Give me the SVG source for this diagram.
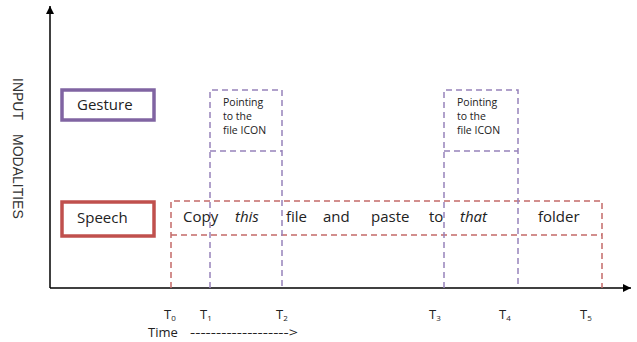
<svg xmlns="http://www.w3.org/2000/svg" width="637" height="342" viewBox="0 0 637 342">
<style>
.lbl{font-family:"Open Sans","Liberation Sans",sans-serif;font-size:15px;fill:#222}
.small{font-family:"Open Sans","Liberation Sans",sans-serif;font-size:10.5px;fill:#222}
.t{font-family:"Open Sans","Liberation Sans",sans-serif;font-size:13px;fill:#222}
.sub{font-size:8px}
.axis{stroke:#000;stroke-width:1.5;fill:none}
.gd{stroke:#9682ba;stroke-width:1.5;stroke-dasharray:6 4;fill:none}
.sd{stroke:#c46a68;stroke-width:1.5;stroke-dasharray:6 4;fill:none}
</style>
<defs>
<marker id="ah" viewBox="0 0 10 10" refX="10" refY="5" markerWidth="10" markerHeight="8" markerUnits="userSpaceOnUse" orient="auto">
<path d="M0,0 L10,5 L0,10 z" fill="#000"/>
</marker>
</defs>
<rect width="637" height="342" fill="#fff"/>

<g id="axes">
<line class="axis" x1="50" y1="288" x2="50" y2="6" marker-end="url(#ah)"/>
<line class="axis" x1="50" y1="288" x2="631" y2="288" marker-end="url(#ah)"/>
<text transform="translate(13,78) rotate(90)" font-family="Liberation Sans, Arial, sans-serif" font-size="14" fill="#333">INPUT<tspan x="56">MODALITIES</tspan></text>
</g>

<g id="gesture">
<rect x="62" y="90" width="92" height="30" fill="#fff" stroke="#8064A2" stroke-width="3.5"/>
<text class="lbl" x="77" y="110">Gesture</text>
</g>

<g id="speech">
<rect x="62" y="202" width="92" height="34" fill="#fff" stroke="#C0504D" stroke-width="3.5"/>
<text class="lbl" x="77" y="223">Speech</text>
</g>

<g id="connectors">
<path class="sd" d="M171,288 V201 H602 V288"/>
<line class="sd" x1="171" y1="235" x2="602" y2="235"/>
<path class="gd" d="M210,288 V90 H282 V288"/>
<line class="gd" x1="210" y1="151" x2="282" y2="151"/>
<path class="gd" d="M444,288 V90 H518 V288"/>
<line class="gd" x1="444" y1="151" x2="518" y2="151"/>
</g>

<g id="gesture1">
<text class="small" x="223" y="106">Pointing</text>
<text class="small" x="223" y="120">to the</text>
<text class="small" x="223" y="134">file ICON</text>
</g>
<g id="gesture2">
<text class="small" x="457" y="106">Pointing</text>
<text class="small" x="457" y="120">to the</text>
<text class="small" x="457" y="134">file ICON</text>
</g>

<g id="utterance">
<text class="lbl" x="183" y="222">Copy</text>
<text class="lbl" x="235" y="222" font-style="italic">this</text>
<text class="lbl" x="286" y="222">file</text>
<text class="lbl" x="323" y="222">and</text>
<text class="lbl" x="371" y="222">paste</text>
<text class="lbl" x="429" y="222">to</text>
<text class="lbl" x="460" y="222" font-style="italic">that</text>
<text class="lbl" x="538" y="222">folder</text>
</g>

<g id="times">
<text class="t" x="164" y="319">T<tspan class="sub" dy="1.5">0</tspan></text>
<text class="t" x="200" y="319">T<tspan class="sub" dy="1.5">1</tspan></text>
<text class="t" x="276" y="319">T<tspan class="sub" dy="1.5">2</tspan></text>
<text class="t" x="429" y="319">T<tspan class="sub" dy="1.5">3</tspan></text>
<text class="t" x="499" y="319">T<tspan class="sub" dy="1.5">4</tspan></text>
<text class="t" x="580" y="319">T<tspan class="sub" dy="1.5">5</tspan></text>
<text class="t" x="148" y="337">Time</text>
<text class="t" x="190" y="337" textLength="108" lengthAdjust="spacingAndGlyphs">-------------------&gt;</text>
</g>
</svg>
